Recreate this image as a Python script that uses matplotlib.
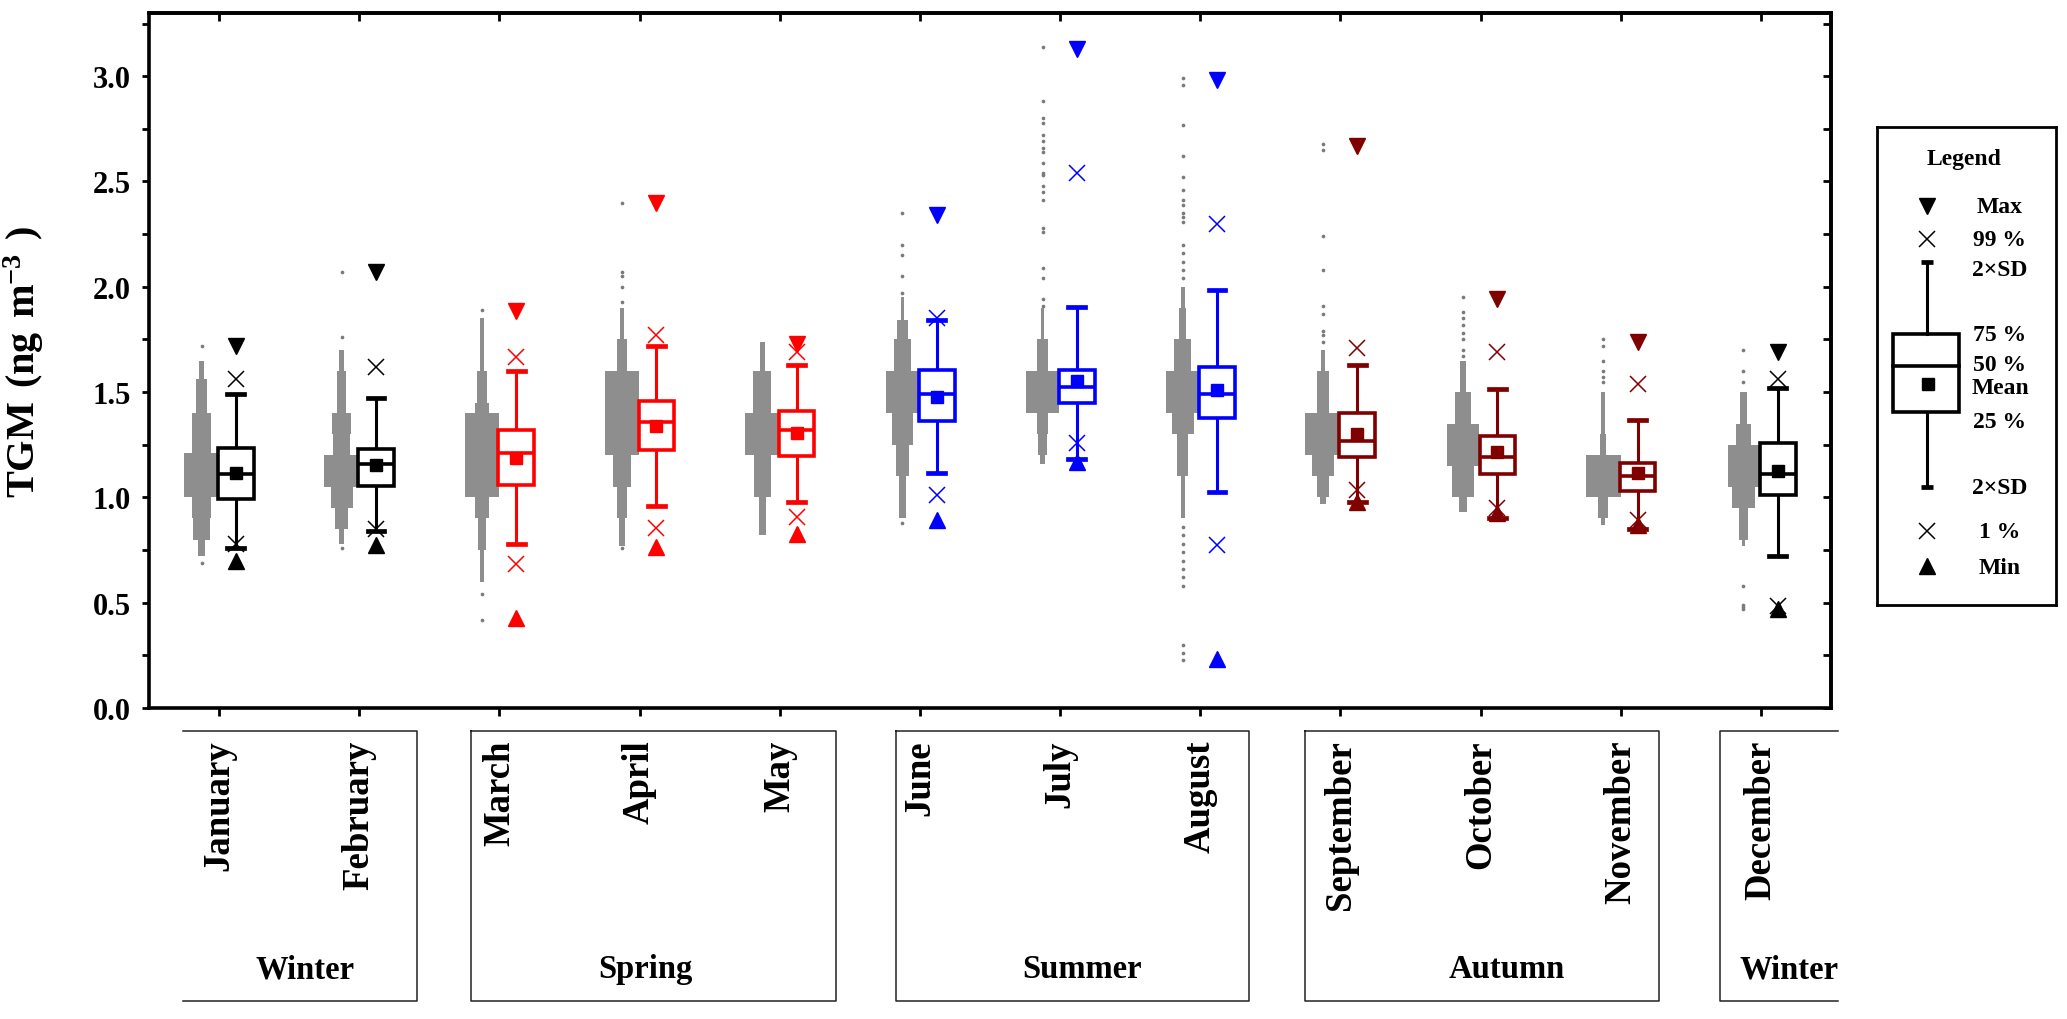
import numpy as np
import matplotlib
matplotlib.use('Agg')
import matplotlib.pyplot as plt
from matplotlib.lines import Line2D
from matplotlib.patches import Rectangle
from matplotlib.ticker import MultipleLocator
from matplotlib.transforms import blended_transform_factory

plt.rcParams['font.family'] = ['Liberation Serif', 'DejaVu Serif']
plt.rcParams['font.weight'] = 'bold'
plt.rcParams['mathtext.fontset'] = 'custom'
plt.rcParams['mathtext.rm'] = 'Liberation Serif:bold'
plt.rcParams['mathtext.bf'] = 'Liberation Serif:bold'

# ---- data ----
months = ['January', 'February', 'March', 'April', 'May', 'June', 'July',
          'August', 'September', 'October', 'November', 'December']
colors = ['black', 'black', '#ff0000', '#ff0000', '#ff0000', '#0000ff', '#0000ff',
          '#0000ff', '#800000', '#800000', '#800000', 'black']

mx = [1.72, 2.07, 1.885, 2.40, 1.73, 2.34, 3.13, 2.98, 2.67, 1.94, 1.74, 1.69]
p99 = [1.56, 1.62, 1.665, 1.77, 1.69, 1.85, 2.54, 2.30, 1.71, 1.69, 1.54, 1.56]
sd_hi = [1.49, 1.47, 1.60, 1.717, 1.627, 1.84, 1.906, 1.987, 1.63, 1.514, 1.368, 1.521]
q75 = [1.235, 1.231, 1.322, 1.46, 1.41, 1.606, 1.606, 1.619, 1.401, 1.29, 1.161, 1.257]
med = [1.111, 1.159, 1.209, 1.357, 1.318, 1.492, 1.525, 1.492, 1.27, 1.192, 1.10, 1.111]
mean = [1.118, 1.155, 1.187, 1.34, 1.307, 1.475, 1.551, 1.51, 1.301, 1.216, 1.115, 1.126]
q25 = [0.991, 1.052, 1.057, 1.224, 1.198, 1.362, 1.449, 1.379, 1.192, 1.111, 1.031, 1.009]
sd_lo = [0.762, 0.839, 0.778, 0.959, 0.98, 1.115, 1.181, 1.024, 0.98, 0.904, 0.85, 0.723]
p1 = [0.78, 0.85, 0.686, 0.856, 0.908, 1.009, 1.257, 0.773, 1.035, 0.948, 0.893, 0.484]
mn = [0.70, 0.773, 0.425, 0.763, 0.828, 0.893, 1.17, 0.235, 0.98, 0.926, 0.871, 0.468]

# raw-data cloud: bin edges and relative spread of each bin, plus isolated points
jan_edges = [0.72, 0.80, 0.90, 1.00, 1.21, 1.40, 1.56, 1.65]
jan_w = [0.2, 0.5, 0.55, 1.0, 0.53, 0.3, 0.12]
jan_dots = [0.69, 1.72]
feb_edges = [0.78, 0.85, 0.95, 1.05, 1.20, 1.30, 1.40, 1.60, 1.70]
feb_w = [0.15, 0.38, 0.62, 1.0, 0.5, 0.55, 0.25, 0.15]
feb_dots = [0.76, 1.76, 2.07]
mar_edges = [0.60, 0.75, 0.90, 1.00, 1.40, 1.45, 1.60, 1.85]
mar_w = [0.12, 0.25, 0.38, 0.95, 0.38, 0.3, 0.12]
mar_dots = [0.42, 0.54, 1.89]
apr_edges = [0.77, 0.90, 1.05, 1.20, 1.60, 1.75, 1.90]
apr_w = [0.15, 0.3, 0.5, 0.95, 0.3, 0.12]
apr_dots = [0.76, 1.93, 2.00, 2.05, 2.07, 2.40]
may_edges = [0.82, 1.00, 1.20, 1.40, 1.60, 1.74]
may_w = [0.2, 0.48, 0.98, 0.5, 0.15]
may_dots = []
jun_edges = [0.90, 1.10, 1.25, 1.40, 1.60, 1.75, 1.84, 1.95]
jun_w = [0.18, 0.38, 0.62, 0.95, 0.5, 0.3, 0.1]
jun_dots = [0.88, 1.97, 2.05, 2.15, 2.20, 2.35]
jul_edges = [1.16, 1.20, 1.30, 1.40, 1.60, 1.75, 1.90]
jul_w = [0.12, 0.25, 0.3, 0.95, 0.3, 0.1]
jul_dots = [1.91, 1.94, 2.04, 2.09, 2.26, 2.28, 2.41, 2.45, 2.48, 2.53, 2.54,
            2.59, 2.64, 2.66, 2.69, 2.72, 2.78, 2.80, 2.88, 3.14]
aug_edges = [0.90, 1.10, 1.30, 1.40, 1.60, 1.75, 1.90, 2.00]
aug_w = [0.12, 0.3, 0.62, 0.95, 0.5, 0.2, 0.12]
aug_dots = [0.23, 0.26, 0.30, 0.58, 0.62, 0.66, 0.70, 0.74, 0.78, 0.82, 0.86,
            2.04, 2.08, 2.12, 2.16, 2.20, 2.31, 2.33, 2.35, 2.39, 2.41, 2.46,
            2.52, 2.62, 2.77, 2.96, 2.99]
sep_edges = [0.97, 1.00, 1.10, 1.20, 1.40, 1.60, 1.70]
sep_w = [0.15, 0.33, 0.65, 1.0, 0.33, 0.1]
sep_dots = [1.74, 1.77, 1.79, 1.87, 1.91, 2.08, 2.24, 2.65, 2.68]
oct_edges = [0.93, 1.00, 1.15, 1.35, 1.50, 1.65]
oct_w = [0.22, 0.65, 0.9, 0.45, 0.18]
oct_dots = [1.67, 1.70, 1.75, 1.78, 1.82, 1.85, 1.88, 1.95]
nov_edges = [0.87, 0.90, 1.00, 1.20, 1.30, 1.50]
nov_w = [0.1, 0.27, 1.0, 0.18, 0.11]
nov_dots = [1.55, 1.57, 1.60, 1.65, 1.72, 1.75]
dec_edges = [0.77, 0.80, 0.95, 1.05, 1.25, 1.35, 1.50]
dec_w = [0.1, 0.27, 0.65, 0.9, 0.45, 0.22]
dec_dots = [0.47, 0.48, 0.49, 0.58, 1.55, 1.60, 1.70]

cloud_edges = [jan_edges, feb_edges, mar_edges, apr_edges, may_edges, jun_edges,
               jul_edges, aug_edges, sep_edges, oct_edges, nov_edges, dec_edges]
cloud_w = [jan_w, feb_w, mar_w, apr_w, may_w, jun_w, jul_w, aug_w, sep_w, oct_w, nov_w, dec_w]
cloud_dots = [jan_dots, feb_dots, mar_dots, apr_dots, may_dots, jun_dots,
              jul_dots, aug_dots, sep_dots, oct_dots, nov_dots, dec_dots]

seasons = ['Winter', 'Spring', 'Summer', 'Autumn', 'Winter']

# ---- figure ----
W, H = 2067, 1020
fig = plt.figure(figsize=(W / 100, H / 100), dpi=100)
ax = fig.add_axes([149 / W, 1 - 709 / H, (1831 - 149) / W, (709 - 14) / H])

gray = '#8e8e8e'
x = np.arange(1, 13)
for i in range(12):
    c = colors[i]
    cx = x[i] - 0.125
    e = np.array(cloud_edges[i])
    w = np.array(cloud_w[i]) * 0.125
    ax.barh((e[:-1] + e[1:]) / 2, 2 * w, height=np.diff(e), left=cx - w,
            color=gray, linewidth=0, zorder=1)
    d = cloud_dots[i]
    if d:
        ax.scatter(np.full(len(d), cx), d, s=7, color='#7a7a7a', linewidths=0, zorder=1)

    bx = x[i] + 0.12
    stats = [dict(med=med[i], q1=q25[i], q3=q75[i], whislo=sd_lo[i], whishi=sd_hi[i],
                  mean=mean[i], fliers=[])]
    ax.bxp(stats, positions=[bx], widths=0.255, capwidths=0.12, showmeans=True,
           patch_artist=True, manage_ticks=False,
           boxprops=dict(facecolor='white', edgecolor=c, linewidth=2.6, joinstyle='miter', zorder=3),
           medianprops=dict(color=c, linewidth=2.6, zorder=4),
           whiskerprops=dict(color=c, linewidth=2.2, zorder=2),
           capprops=dict(color=c, linewidth=3.4, zorder=2),
           meanprops=dict(marker='s', markerfacecolor=c, markeredgecolor=c,
                          markersize=8.5, zorder=5))
    ax.plot(bx, mx[i], marker='v', ms=11, color=c, ls='none', zorder=6)
    ax.plot(bx, mn[i], marker='^', ms=11, color=c, ls='none', zorder=6)
    ax.plot([bx, bx], [p99[i], p1[i]], marker='x', ms=12, mew=1.1, color=c,
            ls='none', zorder=6)

ax.set_xlim(0.5, 12.5)
ax.set_ylim(0, 3.3)
ax.yaxis.set_major_locator(MultipleLocator(0.5))
ax.yaxis.set_minor_locator(MultipleLocator(0.25))
ax.yaxis.set_major_formatter('{x:.1f}')
ax.tick_params(axis='y', which='both', direction='out', length=5, width=2,
               labelsize=22, pad=8)
ax.set_xticks(x, months, rotation=90, fontsize=26.5)
ax.tick_params(axis='x', direction='out', length=5.5, width=2, pad=17)
for s in ax.spines.values():
    s.set_linewidth(2.6)

secy = ax.secondary_yaxis('right')
secy.yaxis.set_major_locator(MultipleLocator(0.5))
secy.yaxis.set_minor_locator(MultipleLocator(0.25))
secy.tick_params(which='both', direction='in', length=5.5, width=2, labelright=False)
secy.spines['right'].set_linewidth(2.6)
secx = ax.secondary_xaxis('top')
secx.set_xticks(x)
secx.tick_params(direction='in', length=5.5, width=2, labeltop=False)
secx.spines['top'].set_linewidth(2.6)

ax.set_ylabel(r'$\mathbf{TGM\ (ng\ m^{-3}\ )}$', fontsize=29)
ax.yaxis.set_label_coords(-0.061, 0.5)

# season boxes under the month labels
trans = blended_transform_factory(ax.transData, fig.transFigure)
season_span = [(0.74, 2.41), (2.80, 5.40), (5.83, 8.35), (8.75, 11.27), (11.71, 12.55)]
season_text_x = [1.61, 4.04, 7.16, 10.19, 12.2]
top_y, bot_y = 1 - 732 / H, 1 - 1002 / H
for k, name in enumerate(seasons):
    l, r = season_span[k]
    if k == 0:
        px, py = [l, r, r, l], [top_y, top_y, bot_y, bot_y]
    elif k == len(seasons) - 1:
        px, py = [r, l, l, r], [top_y, top_y, bot_y, bot_y]
    else:
        px, py = [l, r, r, l, l], [top_y, top_y, bot_y, bot_y, top_y]
    fig.add_artist(Line2D(px, py, transform=trans, color='#222222', lw=1.1))
    fig.text(season_text_x[k], 1 - 970 / H, name, transform=trans, fontsize=23.5,
             ha='center', va='center')

# legend panel
lax = fig.add_axes([1877 / W, 1 - 606 / H, (2056 - 1877) / W, (606 - 128) / H])
lax.set_xlim(1877, 2056)
lax.set_ylim(606, 128)
lax.set_xticks([])
lax.set_yticks([])
for s in lax.spines.values():
    s.set_linewidth(2.0)
mxp = 1927
lax.text(1964, 159, 'Legend', ha='center', va='center', fontsize=17)
lax.plot(mxp, 207, 'v', ms=11, color='k')
lax.plot(mxp, 240, 'x', ms=12, mew=1.1, color='k')
lax.plot(mxp, 532, 'x', ms=12, mew=1.1, color='k')
lax.plot(mxp, 567, '^', ms=11, color='k')
lax.plot([mxp, mxp], [263, 335], color='k', lw=2.2)
lax.plot([mxp, mxp], [413, 488], color='k', lw=2.2)
lax.plot([mxp - 6, mxp + 6], [263, 263], color='k', lw=3.4, solid_capstyle='butt')
lax.plot([mxp - 6, mxp + 6], [488, 488], color='k', lw=3.4, solid_capstyle='butt')
lax.add_patch(Rectangle((1893, 335), 66, 78, fill=False, edgecolor='k', lw=2.6, joinstyle='miter'))
lax.plot([1893, 1959], [367, 367], color='k', lw=2.6)
lax.plot(1928, 385, 's', ms=9, color='k')
legend_items = [('Max', 207), ('99 %', 240), ('2×SD', 270), ('75 %', 335), ('50 %', 365),
                ('Mean', 388), ('25 %', 422), ('2×SD', 488), ('1 %', 532), ('Min', 568)]
for t, yy in legend_items:
    lax.text(2000, yy, t, ha='center', va='center', fontsize=17)

fig.savefig('out.png', dpi=100)
